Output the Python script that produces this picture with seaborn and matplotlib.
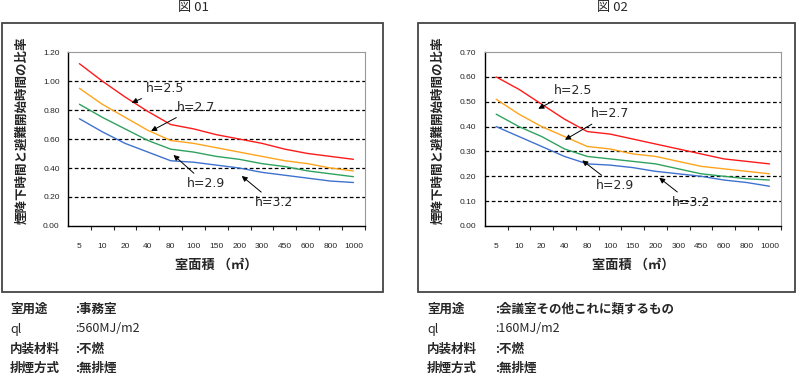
import pandas as pd
import seaborn as sns
import matplotlib.pyplot as plt
from matplotlib.patches import Rectangle

# x categories (room area, m2)
areas = ['5', '10', '20', '40', '80', '100', '150', '200', '300', '450', '600', '800', '1000']
heights = ['h=2.5', 'h=2.7', 'h=2.9', 'h=3.2']

# fig 01 : office, ql=560MJ/m2
f1_h25 = [1.12, 1.00, 0.89, 0.79, 0.70, 0.67, 0.63, 0.60, 0.57, 0.53, 0.50, 0.48, 0.46]
f1_h27 = [0.95, 0.84, 0.75, 0.66, 0.59, 0.57, 0.54, 0.51, 0.48, 0.45, 0.43, 0.40, 0.38]
f1_h29 = [0.84, 0.75, 0.67, 0.59, 0.53, 0.51, 0.48, 0.46, 0.43, 0.41, 0.38, 0.36, 0.34]
f1_h32 = [0.74, 0.65, 0.57, 0.51, 0.45, 0.44, 0.42, 0.40, 0.37, 0.35, 0.33, 0.31, 0.30]

# fig 02 : meeting room, ql=160MJ/m2
f2_h25 = [0.60, 0.55, 0.49, 0.43, 0.38, 0.37, 0.35, 0.33, 0.31, 0.29, 0.27, 0.26, 0.25]
f2_h27 = [0.51, 0.45, 0.40, 0.36, 0.32, 0.31, 0.29, 0.28, 0.26, 0.24, 0.23, 0.22, 0.21]
f2_h29 = [0.45, 0.40, 0.36, 0.31, 0.28, 0.27, 0.26, 0.25, 0.23, 0.21, 0.20, 0.19, 0.185]
f2_h32 = [0.40, 0.36, 0.32, 0.28, 0.25, 0.245, 0.235, 0.22, 0.21, 0.20, 0.185, 0.175, 0.16]

info1 = [('室用途', ':事務室'), ('ql', ':560MJ/m2'), ('内装材料', ':不燃'), ('排煙方式', ':無排煙')]
info2 = [('室用途', ':会議室その他これに類するもの'), ('ql', ':160MJ/m2'), ('内装材料', ':不燃'), ('排煙方式', ':無排煙')]

sns.set_style('white')
plt.rcParams['font.family'] = ['Noto Sans CJK JP', 'DejaVu Sans']

colors = ['#ff1a1a', '#ffa41c', '#2ea25e', '#3f72cf']


def make_df(series):
    rows = []
    for h, vals in zip(heights, series):
        for i, v in enumerate(vals):
            rows.append({'pos': i, 'val': v, 'h': h})
    return pd.DataFrame(rows)


def draw(ax, df, ymax, ystep, notes):
    sns.lineplot(data=df, x='pos', y='val', hue='h', palette=colors, lw=1.0,
                 legend=False, ax=ax)
    ax.set_xlim(-0.5, len(areas) - 0.5)
    ax.set_ylim(0, ymax)
    n = int(round(ymax / ystep))
    yt = [ystep * k for k in range(n + 1)]
    ax.set_yticks(yt)
    ax.set_yticklabels(['%.2f' % v for v in yt], fontsize=6, family='Liberation Sans')
    for v in yt[1:-1]:
        ax.axhline(v, color='black', lw=0.9, ls=(0, (3, 2)), zorder=0)
    ax.set_xticks(range(len(areas)))
    ax.set_xticklabels(areas, fontsize=6, family='Liberation Sans')
    ax.set_xticks([i + 0.5 for i in range(len(areas))], minor=True)
    ax.tick_params(axis='x', which='major', length=0, pad=12)
    ax.tick_params(axis='x', which='minor', length=3, width=0.8, direction='out', bottom=True)
    ax.tick_params(axis='y', length=0, pad=6)
    for s in ['left', 'bottom']:
        ax.spines[s].set_color('black')
        ax.spines[s].set_linewidth(1.0)
    for s in ['top', 'right']:
        ax.spines[s].set_color('#999999')
        ax.spines[s].set_linewidth(0.8)
    ax.set_xlabel('室面積 （㎡）', fontsize=9.5, labelpad=6, fontweight='bold')
    ax.set_ylabel('煙降下時間と避難開始時間の比率', fontsize=9, color='#222222',
                  fontweight='bold')
    ax.yaxis.set_label_coords(-0.135, 0.55)
    for txt, tip, pos in notes:
        ax.annotate(txt, xy=tip, xytext=pos, fontsize=9, ha='left', va='center',
                    family='DejaVu Sans',
                    arrowprops=dict(arrowstyle='-|>', color='black', lw=0.7,
                                    mutation_scale=8, shrinkA=1, shrinkB=0))


fig = plt.figure(figsize=(8, 3.83), dpi=100)
ax1 = fig.add_axes([0.085, 0.410, 0.371, 0.454])
ax2 = fig.add_axes([0.606, 0.410, 0.370, 0.454])

notes1 = [('h=2.5', (2.29, 0.85), (2.92, 0.95)),
          ('h=2.7', (3.14, 0.655), (4.26, 0.82)),
          ('h=2.9', (4.12, 0.49), (4.70, 0.29)),
          ('h=3.2', (7.11, 0.345), (7.69, 0.16))]
notes2 = [('h=2.5', (1.85, 0.472), (2.54, 0.545)),
          ('h=2.7', (3.02, 0.347), (4.15, 0.452)),
          ('h=2.9', (3.78, 0.264), (4.40, 0.161)),
          ('h=3.2', (7.16, 0.194), (7.71, 0.094))]

draw(ax1, make_df([f1_h25, f1_h27, f1_h29, f1_h32]), 1.2, 0.2, notes1)
draw(ax2, make_df([f2_h25, f2_h27, f2_h29, f2_h32]), 0.7, 0.1, notes2)

W, H = 800, 383
for x0, x1 in [(2, 383), (418, 795)]:
    fig.add_artist(Rectangle((x0 / W, 1 - 292 / H), (x1 - x0) / W, (292 - 23) / H,
                             transform=fig.transFigure, fill=False,
                             edgecolor='#444444', lw=1.3))

fig.text(193 / W, 1 - 8 / H, '図 01', ha='center', va='center', fontsize=9.5)
fig.text(612 / W, 1 - 8 / H, '図 02', ha='center', va='center', fontsize=9.5)

ys = [309, 329, 349, 368]
for (xa, xb), info in [((10, 75), info1), ((427, 495), info2)]:
    for y, (k, v) in zip(ys, info):
        w = 'normal' if k == 'ql' else 'bold'
        fig.text(xa / W, 1 - y / H, k, ha='left', va='center', fontsize=9, fontweight=w)
        fig.text(xb / W, 1 - y / H, v, ha='left', va='center', fontsize=9, fontweight=w)

fig.savefig('out.png', dpi=100)
